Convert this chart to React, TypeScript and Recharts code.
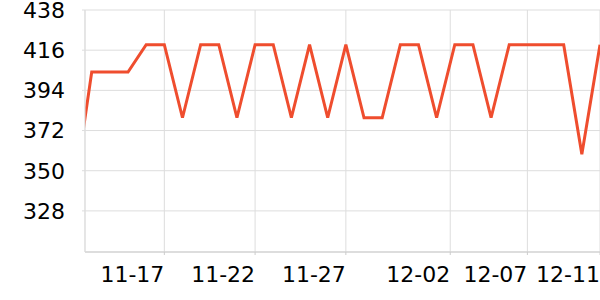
import React from "react";
import {
  LineChart,
  Line,
  XAxis,
  YAxis,
  CartesianGrid,
} from "recharts";

// daily dates, first one sits just left of the visible range
const dates = [
  "11-12", "11-13", "11-14", "11-15", "11-16", "11-17", "11-18", "11-19",
  "11-20", "11-21", "11-22", "11-23", "11-24", "11-25", "11-26", "11-27",
  "11-28", "11-29", "11-30", "12-01", "12-02", "12-03", "12-04", "12-05",
  "12-06", "12-07", "12-08", "12-09", "12-10", "12-11",
];
const values = [
  336, 404, 404, 404, 419, 419, 379, 419, 419, 379, 419, 419, 379, 419, 379,
  419, 379, 379, 419, 419, 379, 419, 419, 379, 419, 419, 419, 419, 359, 419,
];
// x tick positions (day offset from 11-13) and their labels
const xTicks = [4, 9, 14, 19.75, 24, 28];
const xTickLabels = ["11-17", "11-22", "11-27", "12-02", "12-07", "12-11"];
const yTicks = [328, 350, 372, 394, 416, 438];

const data = dates.map((d, i) => ({ date: d, day: i - 1, value: values[i] }));

const FONT = "DejaVu Sans";

const XTick = (props: any) => {
  const { x, y, payload } = props;
  const idx = xTicks.indexOf(payload.value);
  return (
    <text
      x={x}
      y={y}
      dy="0.71em"
      textAnchor="end"
      fill="#000"
      fontSize={22}
      fontFamily={FONT}
    >
      {idx >= 0 ? xTickLabels[idx] : ""}
    </text>
  );
};

const App = () => {
  return (
    <div style={{ position: "absolute", left: 0, top: 0, width: 600, height: 300 }}>
      <LineChart
        width={600}
        height={300}
        data={data}
        margin={{ top: 10, right: 0, left: 0, bottom: 0 }}
      >
        <CartesianGrid stroke="#dddddd" />
        <XAxis
          type="number"
          dataKey="day"
          domain={[-0.37, 28]}
          ticks={xTicks}
          allowDataOverflow
          height={48}
          tickSize={3}
          tickMargin={11}
          axisLine={{ stroke: "#cccccc" }}
          tickLine={{ stroke: "#cccccc" }}
          tick={<XTick />}
          interval={0}
        />
        <YAxis
          type="number"
          domain={[305.5, 438]}
          ticks={yTicks}
          allowDataOverflow
          width={85}
          tickSize={3}
          tickMargin={17}
          axisLine={{ stroke: "#dddddd" }}
          tickLine={{ stroke: "#dddddd" }}
          tick={{ fill: "#000", fontSize: 22, fontFamily: FONT }}
          interval={0}
        />
        <Line
          type="linear"
          dataKey="value"
          stroke="#ef4d2e"
          strokeWidth={3}
          dot={false}
          isAnimationActive={false}
        />
      </LineChart>
    </div>
  );
};

export default App;
